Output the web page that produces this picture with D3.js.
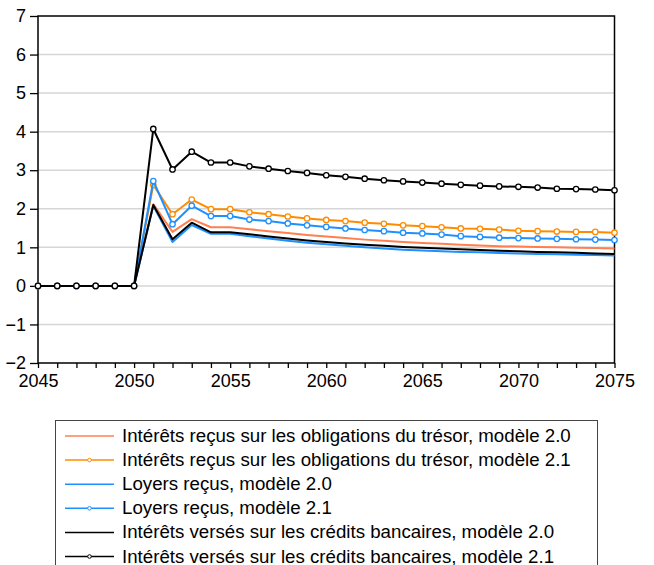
<!DOCTYPE html>
<html>
<head>
<meta charset="utf-8">
<script src="https://cdn.jsdelivr.net/npm/d3@7"></script>
<style>
  html, body { margin: 0; padding: 0; background: #fff; }
  svg { display: block; font-family: "Liberation Sans", Arial, sans-serif; }
</style>
</head>
<body>
<svg id="chart" width="654" height="565"></svg>
<script>
// Years 2045..2075
const years = d3.range(2045, 2076);

const treasuryInterest20 = [0,0,0,0,0,0, 2.12,1.40,1.73,1.52,1.52,1.47,1.42,1.37,1.32,1.28,1.24,1.20,1.17,1.14,1.11,1.09,1.07,1.05,1.03,1.02,1.01,1.00,0.99,0.98,0.97];
const treasuryInterest21 = [0,0,0,0,0,0, 2.62,1.86,2.24,1.99,1.99,1.91,1.86,1.80,1.75,1.71,1.68,1.64,1.61,1.57,1.55,1.52,1.49,1.48,1.46,1.43,1.42,1.41,1.40,1.40,1.38];
const rents20 = [0,0,0,0,0,0, 2.08,1.14,1.58,1.35,1.35,1.29,1.23,1.17,1.12,1.08,1.04,1.00,0.97,0.94,0.92,0.90,0.88,0.87,0.85,0.84,0.83,0.82,0.81,0.80,0.79];
const rents21 = [0,0,0,0,0,0, 2.72,1.60,2.08,1.81,1.81,1.72,1.68,1.62,1.57,1.53,1.49,1.45,1.42,1.38,1.36,1.33,1.29,1.27,1.25,1.24,1.23,1.22,1.21,1.20,1.19];
const loanInterest20 = [0,0,0,0,0,0, 2.10,1.21,1.64,1.39,1.39,1.34,1.28,1.23,1.18,1.14,1.10,1.07,1.04,1.01,0.99,0.97,0.95,0.93,0.91,0.90,0.88,0.87,0.86,0.84,0.83];
const loanInterest21 = [0,0,0,0,0,0, 4.07,3.02,3.48,3.20,3.20,3.10,3.04,2.98,2.93,2.87,2.83,2.78,2.74,2.71,2.68,2.65,2.62,2.60,2.58,2.57,2.55,2.52,2.51,2.50,2.48];

const seriesNames = [
  "Intérêts reçus sur les obligations du trésor, modèle 2.0",
  "Intérêts reçus sur les obligations du trésor, modèle 2.1",
  "Loyers reçus, modèle 2.0",
  "Loyers reçus, modèle 2.1",
  "Intérêts versés sur les crédits bancaires, modèle 2.0",
  "Intérêts versés sur les crédits bancaires, modèle 2.1"
];
const seriesValues = [treasuryInterest20, treasuryInterest21, rents20, rents21, loanInterest20, loanInterest21];
const seriesColors = ["#ff7f50", "#ff8c00", "#1e90ff", "#1e90ff", "#000000", "#000000"];
const seriesMarkers = [false, true, false, true, false, true];

const yTicks = [-2, -1, 0, 1, 2, 3, 4, 5, 6, 7];
const xLabelTicks = [2045, 2050, 2055, 2060, 2065, 2070, 2075];

const svg = d3.select("#chart");
const plot = { left: 38, right: 614.5, top: 16, bottom: 363 };

const x = d3.scaleLinear().domain([2045, 2075]).range([plot.left, plot.right]);
const y = d3.scaleLinear().domain([-2, 7]).range([plot.bottom, plot.top]);

// horizontal grid
svg.append("g")
  .selectAll("line")
  .data(yTicks.filter(t => t > -2 && t < 7))
  .join("line")
  .attr("x1", plot.left).attr("x2", plot.right)
  .attr("y1", d => y(d)).attr("y2", d => y(d))
  .attr("stroke", "#d6d6d6").attr("stroke-width", 1.5);

// left axis
const yAxis = d3.axisLeft(y).tickValues(yTicks).tickSize(8).tickPadding(4).tickFormat(d3.format("d"));
const gy = svg.append("g").attr("transform", `translate(${plot.left},0)`).call(yAxis);
gy.select(".domain").remove();
gy.selectAll(".tick line").attr("stroke", "#000").attr("stroke-width", 1.3);
gy.selectAll(".tick text").attr("font-size", 18).attr("fill", "#000")
  .attr("font-family", "Liberation Sans, Arial, sans-serif");

// bottom axis: yearly ticks, labels every 5 years
const xAxis = d3.axisBottom(x).tickValues(years).tickSize(5).tickPadding(6)
  .tickFormat(d => xLabelTicks.includes(d) ? String(d) : "");
const gx = svg.append("g").attr("transform", `translate(0,${plot.bottom})`).call(xAxis);
gx.select(".domain").remove();
gx.selectAll(".tick line").attr("stroke", "#000").attr("stroke-width", 1.3);
gx.selectAll(".tick text").attr("font-size", 18).attr("fill", "#000")
  .attr("font-family", "Liberation Sans, Arial, sans-serif");

// frame
svg.append("rect")
  .attr("x", plot.left).attr("y", plot.top)
  .attr("width", plot.right - plot.left).attr("height", plot.bottom - plot.top)
  .attr("fill", "none").attr("stroke", "#000").attr("stroke-width", 1.5);

// series
const line = d3.line().x((d, i) => x(years[i])).y(d => y(d));
seriesValues.forEach((vals, k) => {
  const g = svg.append("g");
  g.append("path")
    .datum(vals)
    .attr("d", line)
    .attr("fill", "none")
    .attr("stroke", seriesColors[k])
    .attr("stroke-width", 2)
    .attr("stroke-linejoin", "round");
  if (seriesMarkers[k]) {
    g.selectAll("circle")
      .data(vals)
      .join("circle")
      .attr("cx", (d, i) => x(years[i]))
      .attr("cy", d => y(d))
      .attr("r", 2.7)
      .attr("fill", "#fff")
      .attr("stroke", seriesColors[k])
      .attr("stroke-width", 1.3);
  }
});

// legend
const legend = svg.append("g");
legend.append("rect")
  .attr("x", 55.5).attr("y", 420.5).attr("width", 542).attr("height", 160)
  .attr("fill", "#fff").attr("stroke", "#444").attr("stroke-width", 1);
const rowY0 = 436, rowStep = 24.1;
seriesNames.forEach((name, k) => {
  const cy = rowY0 + k * rowStep;
  legend.append("line")
    .attr("x1", 65).attr("x2", 114).attr("y1", cy).attr("y2", cy)
    .attr("stroke", seriesColors[k]).attr("stroke-width", 1.5);
  if (seriesMarkers[k]) {
    legend.append("circle")
      .attr("cx", 89.5).attr("cy", cy).attr("r", 1.8)
      .attr("fill", "#fff").attr("stroke", seriesColors[k]).attr("stroke-width", 1);
  }
  legend.append("text")
    .attr("x", 122).attr("y", cy + 6)
    .attr("font-size", 18.7)
    .attr("fill", "#000")
    .text(name);
});
</script>
</body>
</html>
